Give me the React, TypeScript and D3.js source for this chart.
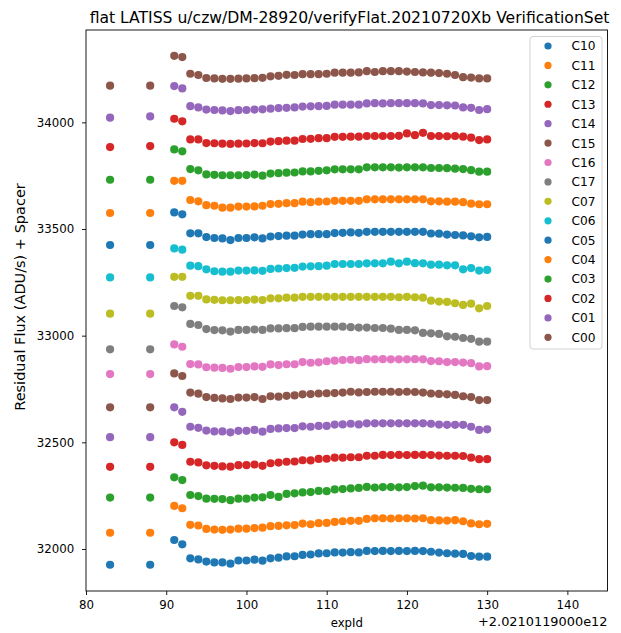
import React, { useEffect, useRef } from 'react';
import * as d3 from 'd3';

// exposure ids, minus the 2.0210119000e12 offset shown on the axis
const expIds = [83, 88, 91, 92,
  93, 94, 95, 96, 97, 98, 99, 100, 101, 102,
  103, 104, 105, 106, 107, 108, 109, 110, 111, 112,
  113, 114, 115, 116, 117, 118, 119, 120, 121, 122,
  123, 124, 125, 126, 127, 128, 129, 130];

const c10 = [31926, 31926, 32042, 32022,
  31956, 31951, 31941, 31937, 31937, 31931, 31946, 31946, 31950, 31945,
  31956, 31959, 31965, 31966, 31972, 31974, 31979, 31980, 31984, 31983,
  31985, 31984, 31991, 31990, 31991, 31990, 31991, 31990, 31991, 31990,
  31987, 31983, 31980, 31978, 31977, 31967, 31964, 31964];
const c11 = [32076, 32076, 32202, 32191,
  32113, 32110, 32094, 32091, 32090, 32091, 32095, 32095, 32098, 32100,
  32107, 32108, 32111, 32112, 32119, 32116, 32121, 32122, 32127, 32130,
  32132, 32132, 32141, 32144, 32144, 32143, 32144, 32144, 32143, 32144,
  32135, 32134, 32133, 32135, 32130, 32120, 32116, 32118];
const c12 = [32241, 32241, 32336, 32323,
  32253, 32248, 32236, 32235, 32234, 32229, 32236, 32236, 32241, 32242,
  32253, 32244, 32258, 32261, 32265, 32267, 32272, 32271, 32279, 32281,
  32284, 32286, 32291, 32288, 32290, 32290, 32289, 32290, 32295, 32297,
  32289, 32289, 32288, 32287, 32286, 32282, 32280, 32280];
const c13 = [32385, 32385, 32500, 32488,
  32409, 32406, 32392, 32390, 32387, 32386, 32393, 32393, 32396, 32390,
  32402, 32405, 32409, 32410, 32416, 32415, 32422, 32423, 32428, 32428,
  32430, 32430, 32437, 32437, 32441, 32440, 32441, 32440, 32441, 32441,
  32440, 32438, 32437, 32437, 32436, 32428, 32421, 32421];
const c14 = [32524, 32524, 32664, 32643,
  32573, 32568, 32555, 32551, 32551, 32547, 32554, 32554, 32558, 32550,
  32563, 32565, 32567, 32567, 32575, 32573, 32577, 32577, 32583, 32584,
  32587, 32584, 32589, 32589, 32589, 32589, 32589, 32589, 32589, 32589,
  32587, 32583, 32582, 32582, 32582, 32573, 32558, 32561];
const c15 = [32664, 32664, 32823, 32811,
  32733, 32728, 32712, 32708, 32706, 32703, 32710, 32710, 32712, 32703,
  32716, 32714, 32718, 32720, 32725, 32726, 32729, 32730, 32731, 32733,
  32737, 32734, 32736, 32737, 32737, 32737, 32736, 32737, 32736, 32733,
  32729, 32727, 32725, 32722, 32716, 32712, 32698, 32698];
const c16 = [32820, 32820, 32959, 32948,
  32867, 32865, 32852, 32850, 32849, 32845, 32853, 32853, 32856, 32854,
  32865, 32862, 32866, 32866, 32876, 32873, 32875, 32880, 32883, 32886,
  32887, 32885, 32890, 32889, 32890, 32889, 32889, 32889, 32890, 32889,
  32881, 32880, 32876, 32876, 32874, 32871, 32856, 32857];
const c17 = [32936, 32936, 33139, 33133,
  33055, 33050, 33031, 33026, 33025, 33019, 33027, 33027, 33029, 33027,
  33034, 33034, 33035, 33035, 33041, 33042, 33042, 33042, 33042, 33042,
  33040, 33038, 33038, 33036, 33036, 33033, 33027, 33027, 33025, 33013,
  33011, 33008, 32997, 32995, 32989, 32985, 32972, 32972];
const c07 = [33103, 33103, 33276, 33276,
  33187, 33187, 33170, 33168, 33166, 33166, 33167, 33167, 33169, 33167,
  33175, 33175, 33178, 33178, 33182, 33182, 33182, 33182, 33182, 33182,
  33182, 33182, 33182, 33182, 33182, 33182, 33180, 33182, 33180, 33178,
  33164, 33160, 33158, 33152, 33144, 33150, 33128, 33139];
const c06 = [33273, 33273, 33409, 33403,
  33328, 33326, 33311, 33302, 33300, 33300, 33305, 33305, 33306, 33304,
  33313, 33315, 33317, 33318, 33324, 33325, 33326, 33328, 33336, 33336,
  33336, 33336, 33339, 33339, 33339, 33347, 33339, 33347, 33340, 33339,
  33333, 33333, 33330, 33330, 33311, 33317, 33305, 33308];
const c05 = [33425, 33425, 33578, 33569,
  33480, 33480, 33462, 33458, 33456, 33448, 33458, 33458, 33461, 33456,
  33465, 33467, 33469, 33469, 33474, 33476, 33476, 33476, 33481, 33482,
  33484, 33482, 33487, 33487, 33487, 33487, 33487, 33487, 33487, 33487,
  33479, 33478, 33474, 33472, 33470, 33466, 33461, 33463];
const c04 = [33575, 33575, 33726, 33726,
  33636, 33630, 33612, 33609, 33600, 33600, 33605, 33605, 33606, 33609,
  33617, 33618, 33621, 33621, 33628, 33626, 33628, 33629, 33632, 33632,
  33632, 33632, 33639, 33639, 33639, 33639, 33639, 33639, 33639, 33639,
  33630, 33630, 33628, 33628, 33626, 33619, 33616, 33616];
const c03 = [33731, 33731, 33873, 33864,
  33781, 33775, 33756, 33754, 33752, 33752, 33752, 33753, 33755, 33750,
  33760, 33762, 33764, 33765, 33770, 33770, 33773, 33775, 33780, 33780,
  33780, 33780, 33789, 33789, 33789, 33789, 33788, 33789, 33789, 33789,
  33786, 33786, 33785, 33783, 33781, 33776, 33769, 33769];
const c02 = [33884, 33889, 34017, 34005,
  33920, 33920, 33903, 33902, 33900, 33899, 33900, 33901, 33903, 33902,
  33910, 33912, 33914, 33914, 33922, 33923, 33926, 33926, 33932, 33932,
  33933, 33933, 33936, 33936, 33936, 33936, 33937, 33948, 33940, 33951,
  33936, 33936, 33935, 33936, 33933, 33928, 33917, 33920];
const c01 = [34022, 34028, 34170, 34159,
  34076, 34070, 34060, 34058, 34056, 34053, 34057, 34058, 34060, 34061,
  34064, 34067, 34068, 34070, 34074, 34075, 34076, 34077, 34083, 34083,
  34083, 34083, 34089, 34090, 34089, 34090, 34090, 34090, 34090, 34089,
  34081, 34081, 34080, 34079, 34070, 34068, 34058, 34062];
const c00 = [34172, 34172, 34312, 34306,
  34228, 34222, 34208, 34206, 34204, 34204, 34205, 34206, 34207, 34209,
  34216, 34218, 34223, 34222, 34226, 34226, 34226, 34228, 34233, 34233,
  34233, 34234, 34240, 34236, 34240, 34240, 34240, 34238, 34236, 34234,
  34233, 34231, 34228, 34222, 34212, 34210, 34206, 34206];

const seriesNames = ['C10', 'C11', 'C12', 'C13', 'C14', 'C15', 'C16', 'C17',
  'C07', 'C06', 'C05', 'C04', 'C03', 'C02', 'C01', 'C00'];
const seriesValues = [c10, c11, c12, c13, c14, c15, c16, c17,
  c07, c06, c05, c04, c03, c02, c01, c00];

const xTicks = [80, 90, 100, 110, 120, 130, 140];
const yTicks = [32000, 32500, 33000, 33500, 34000];

const title = 'flat LATISS u/czw/DM-28920/verifyFlat.20210720Xb VerificationSet';
const xLabel = 'expId';
const yLabel = 'Residual Flux (ADU/s) + Spacer';
const offsetText = '+2.0210119000e12';

const W = 621;
const H = 633;
const plot = { left: 86, right: 607.5, top: 30, bottom: 591 };
const font = 'DejaVu Sans, sans-serif';

export default function App() {
  const ref = useRef<SVGSVGElement>(null);

  useEffect(() => {
    const svg = d3.select(ref.current);
    svg.selectAll('*').remove();

    const x = d3.scaleLinear().domain([80, 145]).range([plot.left, plot.right]);
    const y = d3.scaleLinear().domain([31803, 34433]).range([plot.bottom, plot.top]);
    const color = d3.schemeCategory10;

    svg.append('rect').attr('width', W).attr('height', H).attr('fill', '#fff');

    // points
    const gPts = svg.append('g');
    seriesValues.forEach((vals, i) => {
      gPts.append('g')
        .selectAll('circle')
        .data(vals)
        .join('circle')
        .attr('cx', (d, j) => x(expIds[j]))
        .attr('cy', d => y(d))
        .attr('r', 4.1)
        .attr('fill', color[i % 10]);
    });

    // axes
    const xAxis = svg.append('g')
      .attr('transform', `translate(0,${plot.bottom})`)
      .call(d3.axisBottom(x).tickValues(xTicks).tickSize(4).tickPadding(5.7).tickFormat(d3.format('d')));
    const yAxis = svg.append('g')
      .attr('transform', `translate(${plot.left},0)`)
      .call(d3.axisLeft(y).tickValues(yTicks).tickSize(4).tickPadding(7.8).tickFormat(d3.format('d')));
    [xAxis, yAxis].forEach(a => {
      a.select('.domain').remove();
      a.selectAll('line').attr('stroke', '#000').attr('stroke-width', 0.9);
      a.selectAll('text').attr('font-family', font).attr('font-size', 11.8).attr('fill', '#000');
    });

    // frame
    svg.append('rect')
      .attr('x', plot.left).attr('y', plot.top)
      .attr('width', plot.right - plot.left).attr('height', plot.bottom - plot.top)
      .attr('fill', 'none').attr('stroke', '#000').attr('stroke-width', 0.9);

    svg.append('text')
      .attr('x', 349.5).attr('y', 22.7)
      .attr('text-anchor', 'middle').attr('font-family', font).attr('font-size', 15.6)
      .text(title);

    svg.append('text')
      .attr('x', (plot.left + plot.right) / 2).attr('y', 626.5)
      .attr('text-anchor', 'middle').attr('font-family', font).attr('font-size', 11.7)
      .text(xLabel);

    svg.append('text')
      .attr('x', plot.right).attr('y', 625.5)
      .attr('text-anchor', 'end').attr('font-family', font).attr('font-size', 12.9)
      .text(offsetText);

    svg.append('text')
      .attr('transform', 'translate(25.3,297) rotate(-90)')
      .attr('text-anchor', 'middle').attr('font-family', font).attr('font-size', 14.5)
      .text(yLabel);

    // legend
    const leg = svg.append('g');
    leg.append('rect')
      .attr('x', 530).attr('y', 36.5).attr('width', 72).attr('height', 312.5)
      .attr('rx', 3).attr('fill', '#fff').attr('fill-opacity', 0.8)
      .attr('stroke', '#ccc').attr('stroke-width', 0.9);
    const rows = leg.selectAll('g.row')
      .data(seriesNames)
      .join('g')
      .attr('class', 'row')
      .attr('transform', (d, i) => `translate(0,${46 + i * 19.42})`);
    rows.append('circle')
      .attr('cx', 548).attr('cy', 0).attr('r', 3.6)
      .attr('fill', (d, i) => color[i % 10]);
    rows.append('text')
      .attr('x', 571.5).attr('y', 0).attr('dy', '0.36em')
      .attr('font-family', font).attr('font-size', 12.2)
      .text(d => d);
  }, []);

  return (
    <svg ref={ref} width={W} height={H}
      style={{ position: 'absolute', left: 0, top: 0, display: 'block' }} />
  );
}
